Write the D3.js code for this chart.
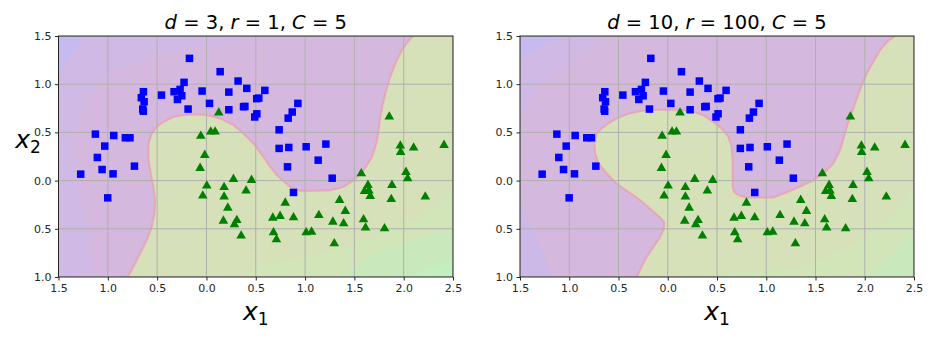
<!DOCTYPE html>
<html><head><meta charset="utf-8">
<script src="https://cdn.jsdelivr.net/npm/d3@7"></script>
<style>body{margin:0;background:#fff}svg{display:block;font-family:"DejaVu Sans",sans-serif}</style>
</head><body><svg id="c" width="936" height="340"></svg>
<script>
// ---- data ----
const squaresX = [-0.172,0.139,0.321,-0.227,0.409,0.592,-0.044,0.227,-0.639,-0.660,-0.456,-0.328,-0.267,-0.250,-0.294,0.531,0.51,0.031,-0.632,-0.646,-0.64,-0.186,0.227,0.376,0.39,0.511,0.49,0.927,0.870,0.829,0.737,0.737,0.835,1.011,1.211,1.133,0.822,1.275,0.883,-1.126,-0.940,-0.822,-0.775,-1.031,-1.106,-1.058,-1.275,-0.947,-0.730,-1.001];
const squaresY = [1.268,1.130,1.033,1.019,0.957,0.936,0.929,0.918,0.922,0.860,0.887,0.922,0.946,0.880,0.842,0.856,0.85,0.801,0.818,0.742,0.72,0.742,0.735,0.766,0.77,0.693,0.66,0.801,0.711,0.648,0.527,0.334,0.344,0.351,0.379,0.212,0.143,0.025,-0.123,0.482,0.468,0.444,0.444,0.358,0.240,0.115,0.067,0.070,0.150,-0.179];
const trianglesX = [0.125,-0.057,0.044,0.088,-0.017,-0.064,0.004,-0.037,0.274,0.457,0.179,0.402,0.179,0.217,0.172,0.308,0.284,0.352,0.799,0.673,0.747,0.883,0.680,0.710,1.011,1.066,1.140,1.282,1.350,1.408,1.391,1.296,1.570,1.638,1.603,1.647,1.661,1.593,1.613,1.806,1.881,1.874,1.854,1.966,1.969,2.101,2.023,2.040,2.219,2.409];
const trianglesY = [0.704,0.462,0.507,0.507,0.264,0.129,-0.054,-0.158,0.015,0.005,-0.070,-0.106,-0.168,-0.283,-0.418,-0.411,-0.456,-0.573,-0.231,-0.387,-0.369,-0.383,-0.539,-0.611,-0.539,-0.532,-0.359,-0.428,-0.203,-0.317,-0.445,-0.653,0.074,-0.047,-0.110,-0.106,-0.161,-0.404,-0.490,-0.497,-0.047,-0.193,0.662,0.361,0.295,0.340,0.088,0.022,-0.168,0.368];

// decision boundaries (bottom edge -> top edge)
const boundaryLeft = [[-0.80,-1.0],[-0.741,-0.895],[-0.673,-0.757],[-0.605,-0.618],[-0.555,-0.480],[-0.528,-0.341],[-0.521,-0.203],[-0.538,-0.065],[-0.565,0.074],[-0.588,0.212],[-0.588,0.385],[-0.555,0.489],[-0.504,0.558],[-0.436,0.610],[-0.335,0.662],[-0.233,0.680],[-0.132,0.687],[0.003,0.680],[0.139,0.645],[0.274,0.576],[0.375,0.489],[0.477,0.385],[0.578,0.247],[0.646,0.143],[0.731,0.039],[0.849,-0.065],[0.951,-0.106],[1.086,-0.106],[1.255,-0.099],[1.390,-0.065],[1.492,0.005],[1.593,0.109],[1.678,0.247],[1.722,0.385],[1.746,0.524],[1.762,0.662],[1.789,0.801],[1.823,0.939],[1.864,1.078],[1.915,1.216],[1.982,1.355],[2.067,1.476],[2.101,1.5]];
const boundaryRight = [[-0.316,-1.0],[-0.265,-0.895],[-0.214,-0.791],[-0.146,-0.688],[-0.079,-0.584],[-0.038,-0.497],[-0.038,-0.428],[-0.079,-0.383],[-0.146,-0.324],[-0.231,-0.245],[-0.316,-0.175],[-0.417,-0.106],[-0.519,-0.030],[-0.620,0.074],[-0.705,0.178],[-0.739,0.282],[-0.745,0.385],[-0.722,0.489],[-0.671,0.541],[-0.603,0.593],[-0.519,0.645],[-0.417,0.687],[-0.282,0.721],[-0.146,0.732],[0.023,0.738],[0.158,0.732],[0.260,0.714],[0.361,0.680],[0.463,0.610],[0.547,0.541],[0.615,0.455],[0.649,0.351],[0.659,0.212],[0.659,0.074],[0.659,-0.065],[0.673,-0.116],[0.717,-0.151],[0.801,-0.175],[0.937,-0.175],[1.072,-0.175],[1.173,-0.134],[1.275,-0.092],[1.376,-0.047],[1.478,0.005],[1.579,0.074],[1.681,0.178],[1.749,0.316],[1.799,0.489],[1.833,0.610],[1.877,0.732],[1.925,0.870],[1.969,0.991],[2.019,1.112],[2.087,1.233],[2.155,1.355],[2.239,1.452],[2.307,1.5]];

// faint contour bands
const purpleBandsLeft = [
  [[-1.5,-1],[-1.16,-1],[-1.2,-0.55],[-1.36,0.32],[-1.33,0.52],[-1.1,1.04],[-0.52,1.32],[0.49,1.46],[0.7,1.5],[-1.5,1.5]],
  [[-1.5,1.05],[-1.38,1.3],[-1.23,1.5],[-1.5,1.5]]
];
const greenBandsLeft = [
  [[0.4,-1],[0.5,-0.88],[1.2,-0.75],[1.8,-0.55],[2.2,-0.35],[2.5,-0.1],[2.5,-1]],
  [[1.4,-1],[1.7,-0.75],[2.1,-0.62],[2.5,-0.5],[2.5,-1]],
  [[2.0,-1],[2.3,-0.9],[2.5,-0.82],[2.5,-1]]
];
const purpleBandsRight = [
  [[-1.5,0.66],[-1.27,1.01],[-0.9,1.3],[-0.59,1.5],[-1.5,1.5]],
  [[-1.5,1.25],[-1.25,1.42],[-0.99,1.5],[-1.5,1.5]],
  [[-1.5,-0.2],[-1.38,-0.5],[-1.25,-0.8],[-1.18,-1],[-1.5,-1]]
];
const greenBandsRight = [
  [[0.25,-1],[0.8,-0.95],[1.34,-0.9],[1.9,-0.65],[2.3,-0.35],[2.5,-0.07],[2.5,-1]],
  [[1.98,-1],[2.25,-0.8],[2.5,-0.51],[2.5,-1]]
];

const xTicks = [-1.5,-1,-0.5,0,0.5,1,1.5,2,2.5];
const xTickLabels = ["1.5","1.0","0.5","0.0","0.5","1.0","1.5","2.0","2.5"];
const yTicks = [-1,-0.5,0,0.5,1,1.5];
const yTickLabels = ["1.0","0.5","0.0","0.5","1.0","1.5"];
const titles = [[["d",1],[" = 3, ",0],["r",1],[" = 1, ",0],["C",1],[" = 5",0]],
                [["d",1],[" = 10, ",0],["r",1],[" = 100, ",0],["C",1],[" = 5",0]]];

// ---- drawing ----
const svg = d3.select("#c");
const purpleColors = ["#d0b9e4","#c6baf0","#ccb9e8"];
const greenColors = ["#d1e5b9","#c9e9bc","#c2eec0"];
const panels = [
  {left:58.5,right:453,boundary:boundaryLeft,pb:purpleBandsLeft,gb:greenBandsLeft,title:titles[0],ylabel:true},
  {left:520,right:914,boundary:boundaryRight,pb:purpleBandsRight,gb:greenBandsRight,title:titles[1],ylabel:false}
];
const pTop=36,pBottom=277;

panels.forEach((p,i)=>{
  const x = d3.scaleLinear().domain([-1.5,2.5]).range([p.left,p.right]);
  const y = d3.scaleLinear().domain([-1,1.5]).range([pBottom,pTop]);
  const line = d3.line().x(d=>x(d[0])).y(d=>y(d[1]));
  const cid = "clip"+i;
  svg.append("clipPath").attr("id",cid).append("rect")
    .attr("x",p.left).attr("y",pTop).attr("width",p.right-p.left).attr("height",pBottom-pTop);
  const g = svg.append("g").attr("clip-path",`url(#${cid})`);
  g.append("rect").attr("x",p.left).attr("y",pTop).attr("width",p.right-p.left).attr("height",pBottom-pTop).attr("fill","#d6e0b9");
  p.gb.forEach((b,k)=>g.append("path").attr("d",line(b)+"Z").attr("fill",greenColors[k]));
  const poly = p.boundary.concat([[-1.5,1.5],[-1.5,-1]]);
  g.append("path").attr("d",line(poly)+"Z").attr("fill","#d4b8de");
  p.pb.forEach((b,k)=>g.append("path").attr("d",line(b)+"Z").attr("fill",purpleColors[k]));
  g.append("path").attr("d",line(p.boundary)).attr("fill","none").attr("stroke","#eba0b4").attr("stroke-width",2).attr("opacity",0.85);

  // grid
  g.selectAll(".gx").data(xTicks).join("line").attr("x1",d=>x(d)).attr("x2",d=>x(d)).attr("y1",pTop).attr("y2",pBottom).attr("stroke","#b0b0b0").attr("stroke-width",1);
  g.selectAll(".gy").data(yTicks).join("line").attr("y1",d=>y(d)).attr("y2",d=>y(d)).attr("x1",p.left).attr("x2",p.right).attr("stroke","#b0b0b0").attr("stroke-width",1);

  // axes
  const xa = d3.axisBottom(x).tickValues(xTicks).tickFormat((d,j)=>xTickLabels[j]).tickSizeOuter(0).tickSize(3.5).tickPadding(3.5);
  const ya = d3.axisLeft(y).tickValues(yTicks).tickFormat((d,j)=>yTickLabels[j]).tickSizeOuter(0).tickSize(3.5).tickPadding(3.5);
  const gx = svg.append("g").attr("transform",`translate(0,${pBottom})`).call(xa);
  const gy = svg.append("g").attr("transform",`translate(${p.left},0)`).call(ya);
  [gx,gy].forEach(a=>{
    a.selectAll("text").attr("font-family","DejaVu Sans").attr("font-size",11).attr("fill","#262626");
    a.selectAll("line").attr("stroke","#262626");
    a.select(".domain").remove();
  });
  svg.append("rect").attr("x",p.left).attr("y",pTop).attr("width",p.right-p.left).attr("height",pBottom-pTop)
    .attr("fill","none").attr("stroke","#262626").attr("stroke-width",1);

  // points
  const pts = svg.append("g");
  pts.selectAll("rect.sq").data(squaresX).join("rect")
    .attr("x",(d,j)=>x(d)-3.75).attr("y",(d,j)=>y(squaresY[j])-3.75).attr("width",7.5).attr("height",7.5).attr("fill","#0000ff");
  const tri = d3.symbol().type(d3.symbolTriangle).size(40);
  pts.selectAll("path.tr").data(trianglesX).join("path")
    .attr("d",tri).attr("transform",(d,j)=>`translate(${x(d)},${y(trianglesY[j])})`).attr("fill","#008000");

  // title
  const t = svg.append("text").attr("x",(p.left+p.right)/2).attr("y",29).attr("text-anchor","middle")
    .attr("font-size",19.5).attr("fill","#000");
  p.title.forEach(s=>t.append("tspan").attr("font-style",s[1]?"italic":"normal").text(s[0]));
  // x label
  const xl = svg.append("text").attr("x",(p.left+p.right)/2).attr("y",320).attr("text-anchor","middle").attr("font-size",25);
  xl.append("tspan").attr("font-style","italic").text("x");
  xl.append("tspan").attr("font-size",17).attr("dy",5).text("1");
  if(p.ylabel){
    const yl = svg.append("text").attr("x",28).attr("y",148).attr("text-anchor","middle").attr("font-size",25);
    yl.append("tspan").attr("font-style","italic").text("x");
    yl.append("tspan").attr("font-size",17).attr("dy",5).text("2");
  }
});
</script></body></html>
